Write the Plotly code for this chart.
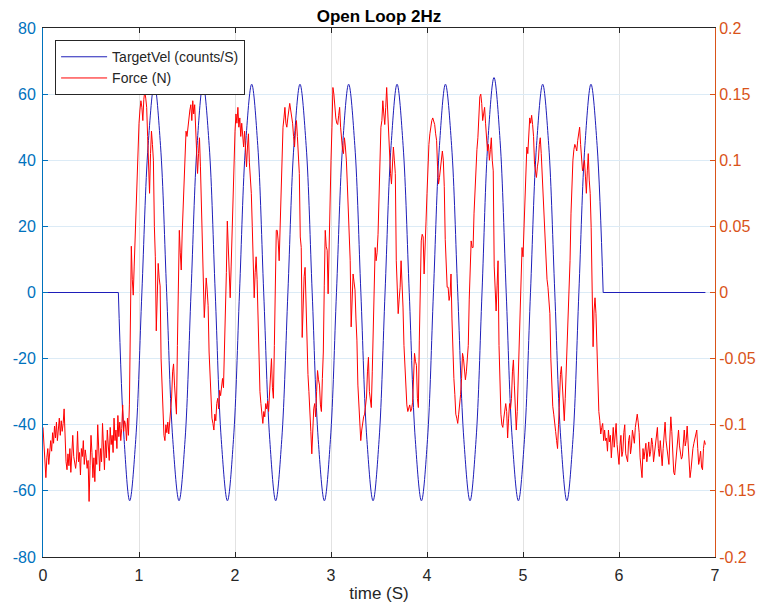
import plotly.graph_objects as go

# ---------------------------------------------------------------------------
# Target velocity (counts/S): turning points and mid-points of each 2 Hz cycle
# ---------------------------------------------------------------------------
VEL_T = [
    0.785, 0.845, 0.903, 0.966, 1.030, 1.095, 1.160, 1.224,
    1.288, 1.352, 1.417, 1.480, 1.542, 1.605, 1.667, 1.731,
    1.794, 1.857, 1.921, 1.984, 2.047, 2.110, 2.174, 2.237,
    2.299, 2.362, 2.424, 2.487, 2.551, 2.614, 2.677, 2.741,
    2.804, 2.867, 2.931, 2.994, 3.057, 3.121, 3.184, 3.248,
    3.311, 3.374, 3.438, 3.501, 3.563, 3.626, 3.688, 3.751,
    3.815, 3.878, 3.942, 4.005, 4.067, 4.130, 4.192, 4.256,
    4.320, 4.384, 4.448, 4.511, 4.573, 4.635, 4.698, 4.761,
    4.825, 4.888, 4.952, 5.015, 5.078, 5.141, 5.205, 5.268,
    5.331, 5.394, 5.457, 5.520, 5.582, 5.645, 5.708, 5.772,
    5.835,
]
VEL = [
    0, -44.5, -63, -44.5, 0, 44.5, 63, 44.5,
    0, -44.5, -63, -44.5, 0, 44.5, 63, 44.5,
    0, -44.5, -63, -44.5, 0, 44.5, 63, 44.5,
    0, -44.5, -63, -44.5, 0, 44.5, 63, 44.5,
    0, -44.5, -63, -44.5, 0, 44.5, 63, 44.5,
    0, -44.5, -63, -44.5, 0, 44.5, 63, 44.5,
    0, -44.5, -63, -44.5, 0, 44.5, 63, 44.5,
    0, -44.5, -63, -44.5, 0, 46.0, 65, 46.0,
    0, -44.5, -63, -44.5, 0, 44.5, 63, 44.5,
    0, -44.5, -63, -44.5, 0, 44.5, 63, 44.5,
    0,
]
# idle (zero command) before and after the motion
VEL_IDLE_BEFORE_T = [0.0, 0.785]
VEL_IDLE_AFTER_T = [5.835, 6.90]
VEL_IDLE = [0, 0]

# ---------------------------------------------------------------------------
# Measured force (N), sampled every 10 ms; each block starts at FORCE_STARTS[i]
# ---------------------------------------------------------------------------
FORCE_DT = 0.01
FORCE_STARTS = [0.00, 0.86, 1.41, 1.92, 2.44, 3.03, 3.49, 4.00, 4.44, 4.99, 5.49, 5.87]

force_idle_before = [
    -0.102, -0.115, -0.128, -0.140, -0.125, -0.118, -0.130, -0.122, -0.112, -0.120,
    -0.106, -0.114, -0.101, -0.110, -0.098, -0.112, -0.104, -0.095, -0.108, -0.097,
    -0.105, -0.099, -0.088, -0.112, -0.128, -0.134, -0.122, -0.131, -0.118, -0.136,
    -0.116, -0.108, -0.124, -0.131, -0.133, -0.126, -0.105, -0.128, -0.121, -0.138,
    -0.118, -0.124, -0.112, -0.130, -0.119, -0.125, -0.133, -0.127, -0.158, -0.131,
    -0.108, -0.121, -0.140, -0.125, -0.143, -0.119, -0.130, -0.100, -0.122, -0.135,
    -0.118, -0.128, -0.099, -0.121, -0.134, -0.112, -0.125, -0.104, -0.118, -0.127,
    -0.102, -0.115, -0.108, -0.121, -0.095, -0.112, -0.104, -0.118, -0.093, -0.109,
    -0.098, -0.112, -0.103, -0.085, -0.105, -0.097,
]
force_cycle1 = [
    -0.100, -0.112, -0.095, -0.108, -0.085,
    -0.020, 0.035, 0.010, -0.002, 0.020, 0.040, 0.062, 0.095, 0.112, 0.128,
    0.138, 0.145, 0.140, 0.130, 0.146, 0.152, 0.147, 0.140, 0.118, 0.100,
    0.075, 0.105, 0.122, 0.112, 0.100, 0.050, 0.027, -0.029, 0.005, 0.022,
    0.011, 0.005, -0.050, -0.075, -0.097, -0.108, -0.112, -0.100, -0.106, -0.098,
    -0.107, -0.099, -0.088, -0.079, -0.060, -0.054, -0.070, -0.085, -0.092, -0.040,
]
force_cycle2 = [
    0.000, 0.047, 0.030, 0.017, 0.045, 0.067, 0.090, 0.110, 0.122, 0.118,
    0.126, 0.132, 0.138, 0.142, 0.130, 0.145, 0.135, 0.142, 0.125, 0.112,
    0.090, 0.105, 0.117, 0.095, 0.067, 0.040, 0.020, -0.019, -0.005, 0.011,
    0.002, -0.010, -0.045, -0.065, -0.089, -0.095, -0.099, -0.104, -0.092, -0.097,
    -0.084, -0.080, -0.088, -0.074, -0.078, -0.070, -0.065, -0.072, -0.046, -0.020,
    0.015,
]
force_cycle3 = [
    0.054, 0.030, 0.017, -0.004, 0.020, 0.045, 0.080, 0.105, 0.122,
    0.135, 0.128, 0.140, 0.125, 0.132, 0.118, 0.128, 0.120, 0.110, 0.122,
    0.107, 0.095, 0.110, 0.120, 0.098, 0.085, 0.075, 0.050, 0.017, -0.004,
    0.015, 0.027, 0.010, -0.020, -0.056, -0.075, -0.084, -0.095, -0.099, -0.090,
    -0.094, -0.084, -0.088, -0.082, -0.090, -0.076, -0.064, -0.050, -0.072, -0.080,
    -0.040, 0.000, 0.047,
]
force_cycle4 = [
    0.047, 0.039, 0.024, 0.050, 0.090, 0.110, 0.125,
    0.132, 0.140, 0.128, 0.125, 0.132, 0.138, 0.143, 0.138, 0.134, 0.128,
    0.118, 0.110, 0.122, 0.130, 0.118, 0.105, 0.090, 0.042, 0.034, -0.034,
    -0.001, 0.012, 0.019, -0.011, -0.030, -0.062, -0.075, -0.087, -0.105, -0.122,
    -0.097, -0.088, -0.084, -0.094, -0.075, -0.059, -0.066, -0.070, -0.085, -0.090,
    -0.065, -0.045, 0.005, 0.047, 0.035, 0.032, -0.001, 0.040, 0.065, 0.100,
    0.125, 0.155,
]
force_cycle5 = [
    0.150, 0.140, 0.132, 0.128, 0.127, 0.134, 0.140,
    0.125, 0.115, 0.108, 0.105, 0.117, 0.110, 0.100, 0.082, 0.060, 0.035,
    0.024, -0.026, 0.000, 0.014, 0.008, 0.002, -0.020, -0.036, -0.070, -0.085,
    -0.097, -0.112, -0.104, -0.097, -0.094, -0.092, -0.085, -0.079, -0.060, -0.049,
    -0.075, -0.084, -0.087, -0.060, -0.031, 0.010, 0.034, 0.024, 0.030,
]
force_cycle6 = [
    0.044,
    0.080, 0.115, 0.125, 0.130, 0.145, 0.135, 0.127, 0.140, 0.155, 0.138,
    0.123, 0.097, 0.090, 0.082, 0.095, 0.110, 0.100, 0.090, 0.024, -0.005,
    -0.016, -0.005, 0.004, 0.024, 0.010, -0.011, -0.040, -0.056, -0.079, -0.085,
    -0.090, -0.086, -0.085, -0.090, -0.088, -0.083, -0.060, -0.046, -0.052, -0.055,
    -0.080, -0.087, -0.036, 0.000, 0.039, 0.044, 0.042, 0.014, 0.030, 0.054,
]
force_cycle7 = [
    0.075, 0.102, 0.112, 0.120, 0.128, 0.130, 0.132, 0.130, 0.127, 0.120,
    0.115, 0.095, 0.082, 0.087, 0.095, 0.102, 0.107, 0.100, 0.080, 0.040,
    0.019, 0.004, 0.004, -0.006, -0.002, 0.014, -0.020, -0.052, -0.065, -0.077,
    -0.092, -0.095, -0.099, -0.092, -0.085, -0.077, -0.065, -0.046, -0.050, -0.056,
    -0.066, -0.060, -0.049, -0.040,
]
force_cycle8 = [
    -0.005, 0.030, 0.039, 0.034, 0.034, 0.060,
    0.080, 0.100, 0.108, 0.117, 0.130, 0.148, 0.150, 0.143, 0.130, 0.136,
    0.140, 0.128, 0.115, 0.107, 0.112, 0.100, 0.108, 0.117, 0.100, 0.092,
    0.020, -0.001, -0.014, 0.005, 0.024, -0.040, -0.079, -0.092, -0.100, -0.102,
    -0.095, -0.090, -0.084, -0.090, -0.110, -0.095, -0.084, -0.088, -0.080, -0.060,
    -0.051, -0.070, -0.085, -0.104, -0.090, -0.068, -0.040, -0.018, 0.008,
]
force_cycle9 = [
    0.034,
    0.027, 0.050, 0.075, 0.100, 0.110, 0.105, 0.120, 0.132, 0.128, 0.134,
    0.127, 0.118, 0.097, 0.092, 0.087, 0.095, 0.100, 0.112, 0.117, 0.105,
    0.090, 0.070, 0.050, 0.040, 0.022, 0.010, 0.004, -0.010, -0.016, -0.050,
    -0.079, -0.086, -0.092, -0.097, -0.105, -0.112, -0.118, -0.100, -0.076, -0.062,
    -0.056, -0.071, -0.085, -0.097, -0.080, -0.060, -0.032, -0.010, 0.009,
]
force_cycle10 = [
    0.024,
    0.060, 0.082, 0.100, 0.108, 0.112, 0.110, 0.107, 0.115, 0.120, 0.125,
    0.112, 0.100, 0.092, 0.095, 0.100, 0.088, 0.075, 0.092, 0.105, 0.085,
    0.075, 0.049, 0.009, -0.041, -0.014, -0.004, -0.016, -0.045, -0.070, -0.090,
    -0.097, -0.107, -0.102, -0.099, -0.112, -0.104, -0.112,
]
force_idle_after = [
    -0.110, -0.120, -0.104,
    -0.113, -0.108, -0.125, -0.110, -0.102, -0.117, -0.108, -0.099, -0.115, -0.121,
    -0.130, -0.116, -0.108, -0.124, -0.120, -0.106, -0.100, -0.122, -0.126, -0.128,
    -0.112, -0.108, -0.122, -0.116, -0.104, -0.110, -0.114, -0.102, -0.097, -0.092,
    -0.098, -0.106, -0.125, -0.133, -0.140, -0.118, -0.126, -0.120, -0.114, -0.128,
    -0.122, -0.113, -0.124, -0.120, -0.110, -0.115, -0.128, -0.122, -0.112, -0.108,
    -0.102, -0.118, -0.124, -0.112, -0.120, -0.131, -0.118, -0.105, -0.098, -0.112,
    -0.120, -0.128, -0.130, -0.110, -0.094, -0.105, -0.125, -0.136, -0.138, -0.128,
    -0.118, -0.110, -0.104, -0.116, -0.122, -0.126, -0.124, -0.108, -0.104, -0.116,
    -0.112, -0.101, -0.118, -0.130, -0.140, -0.134, -0.124, -0.118, -0.114, -0.110,
    -0.108, -0.104, -0.118, -0.130, -0.126, -0.120, -0.132, -0.134, -0.118, -0.112,
    -0.115,
]
FORCE_BLOCKS = [
    force_idle_before, force_cycle1, force_cycle2, force_cycle3, force_cycle4,
    force_cycle5, force_cycle6, force_cycle7, force_cycle8, force_cycle9,
    force_cycle10, force_idle_after,
]

# axis ticks
X_TICKS = [0, 1, 2, 3, 4, 5, 6, 7]
Y_LEFT_TICKS = [-80, -60, -40, -20, 0, 20, 40, 60, 80]
Y_RIGHT_TICKS = [-0.2, -0.15, -0.1, -0.05, 0, 0.05, 0.1, 0.15, 0.2]
Y_RIGHT_LABELS = ["-0.2", "-0.15", "-0.1", "-0.05", "0", "0.05", "0.1", "0.15", "0.2"]

# assemble the sampled force signal
force_t, force = [], []
for start, block in zip(FORCE_STARTS, FORCE_BLOCKS):
    for i, v in enumerate(block):
        force_t.append(round(start + i * FORCE_DT, 4))
        force.append(v)

FONT = "Liberation Sans, Arial, Helvetica, sans-serif"
AX_DARK = "#262626"
BLUE_AX = "#0072BD"
ORANGE_AX = "#D95319"
VEL_COLOR = "rgb(30,30,185)"
FORCE_COLOR = "rgb(255,0,0)"

fig = go.Figure()
fig.add_trace(go.Scatter(
    x=VEL_T, y=VEL, mode="lines", name="TargetVel (counts/S)",
    legendgroup="vel", yaxis="y",
    line=dict(color=VEL_COLOR, width=1, shape="spline", smoothing=1.0),
))
for seg_t in (VEL_IDLE_BEFORE_T, VEL_IDLE_AFTER_T):
    fig.add_trace(go.Scatter(
        x=seg_t, y=VEL_IDLE, mode="lines", showlegend=False,
        legendgroup="vel", yaxis="y", hoverinfo="skip",
        line=dict(color=VEL_COLOR, width=1),
    ))
fig.add_trace(go.Scatter(
    x=force_t, y=force, mode="lines", name="Force (N)", yaxis="y2",
    line=dict(color=FORCE_COLOR, width=1),
))

fig.update_layout(
    width=759, height=603,
    margin=dict(l=43, r=44, t=28, b=46),
    paper_bgcolor="white", plot_bgcolor="white",
    font=dict(family=FONT, size=16, color=AX_DARK),
    title=dict(
        text="<b>Open Loop 2Hz</b>", x=0.5, xref="paper", xanchor="center",
        y=1 - 16 / 603, yref="container", yanchor="middle",
        font=dict(family=FONT, size=17, color="black"),
    ),
    xaxis=dict(
        range=[0, 7], tickvals=X_TICKS, ticktext=[str(v) for v in X_TICKS],
        ticks="inside", ticklen=5, tickwidth=1, tickcolor=AX_DARK,
        showline=True, linecolor=AX_DARK, linewidth=1, mirror="ticks",
        showgrid=True, gridcolor="#e2e2e2", gridwidth=1, zeroline=False,
        automargin=False, ticklabelstandoff=4,
        tickfont=dict(family=FONT, size=16, color=AX_DARK),
        title=dict(text="time (S)", font=dict(family=FONT, size=17, color=AX_DARK), standoff=4),
    ),
    yaxis=dict(
        range=[-80, 80], tickvals=Y_LEFT_TICKS,
        ticktext=[str(v) for v in Y_LEFT_TICKS],
        ticks="inside", ticklen=5, tickwidth=1, tickcolor=BLUE_AX,
        showline=True, linecolor=BLUE_AX, linewidth=1,
        showgrid=True, gridcolor="#dcebf6", gridwidth=1, zeroline=False,
        automargin=False, ticklabelstandoff=3,
        tickfont=dict(family=FONT, size=16, color=BLUE_AX),
    ),
    yaxis2=dict(
        range=[-0.2, 0.2], tickvals=Y_RIGHT_TICKS, ticktext=Y_RIGHT_LABELS,
        overlaying="y", side="right",
        ticks="inside", ticklen=5, tickwidth=1, tickcolor=ORANGE_AX,
        showline=True, linecolor=ORANGE_AX, linewidth=1,
        showgrid=False, zeroline=False, automargin=False,
        tickfont=dict(family=FONT, size=16, color=ORANGE_AX),
    ),
    legend=dict(
        x=0.018, y=0.977, xanchor="left", yanchor="top",
        bgcolor="white", bordercolor=AX_DARK, borderwidth=1,
        font=dict(family=FONT, size=14, color=AX_DARK),
        tracegroupgap=0, itemwidth=46,
    ),
    showlegend=True,
)

fig.write_html("out.html", config={"displayModeBar": False})
